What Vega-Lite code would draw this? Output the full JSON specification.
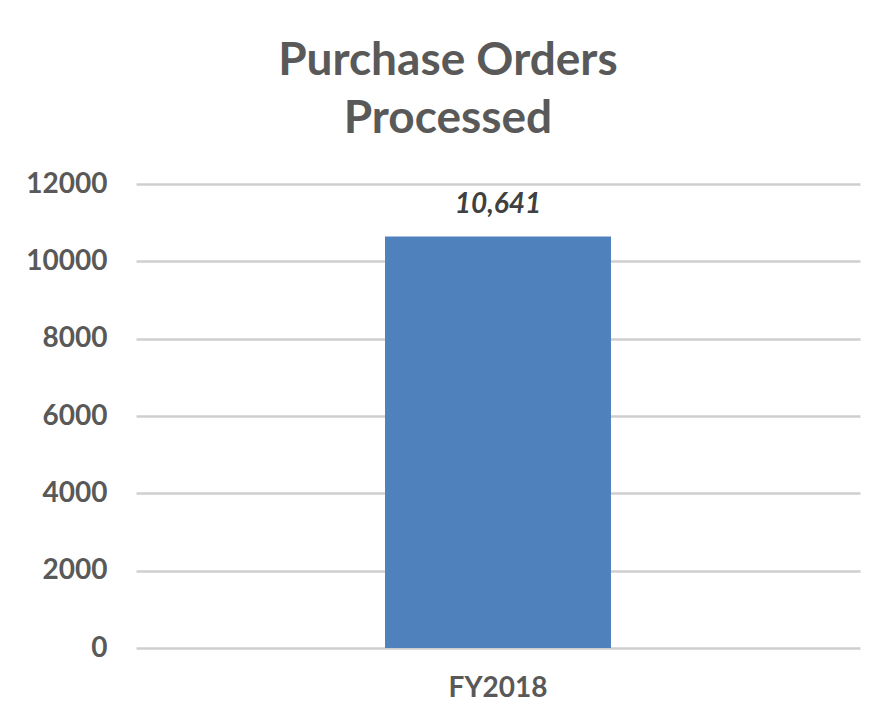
{
  "$schema": "https://vega.github.io/schema/vega-lite/v6.json",
  "autosize": {"type": "none"},
  "width": 724,
  "height": 464,
  "padding": {"left": 136, "top": 184, "right": 19, "bottom": 76},
  "background": "white",
  "title": {
    "text": ["Purchase Orders", "Processed"],
    "font": "Lato",
    "fontSize": 46,
    "fontWeight": "bold",
    "color": "#595959",
    "anchor": "middle",
    "frame": "bounds",
    "lineHeight": 58,
    "offset": 27,
    "dx": 5
  },
  "data": {"values": [{"period": "FY2018", "orders": 10641}]},
  "layer": [
    {
      "mark": {"type": "bar", "color": "#4F81BD"},
      "encoding": {
        "x": {
          "field": "period",
          "type": "nominal",
          "scale": {"paddingInner": 0.5, "paddingOuter": 0.551},
          "axis": {
            "title": null,
            "labelAngle": 0,
            "labelFont": "Lato",
            "labelFontSize": 28,
            "labelFontWeight": "bold",
            "labelColor": "#595959",
            "labelPadding": 26,
            "ticks": false,
            "domain": false
          }
        },
        "y": {
          "field": "orders",
          "type": "quantitative",
          "scale": {"domain": [0, 12000], "nice": false},
          "axis": {
            "title": null,
            "values": [0, 2000, 4000, 6000, 8000, 10000, 12000],
            "format": "d",
            "labelFont": "Lato",
            "labelFontSize": 28,
            "labelFontWeight": "bold",
            "labelColor": "#595959",
            "labelPadding": 29,
            "ticks": false,
            "domain": false,
            "grid": true,
            "gridColor": "#cfcfcf",
            "gridWidth": 2.5
          }
        }
      }
    },
    {
      "mark": {
        "type": "text",
        "font": "Lato",
        "fontSize": 28,
        "fontWeight": "bold",
        "fontStyle": "italic",
        "color": "#404040",
        "baseline": "bottom",
        "dy": -18
      },
      "encoding": {
        "x": {"field": "period", "type": "nominal"},
        "y": {"field": "orders", "type": "quantitative"},
        "text": {"field": "orders", "type": "quantitative", "format": ","}
      }
    }
  ],
  "config": {"view": {"stroke": null}}
}
